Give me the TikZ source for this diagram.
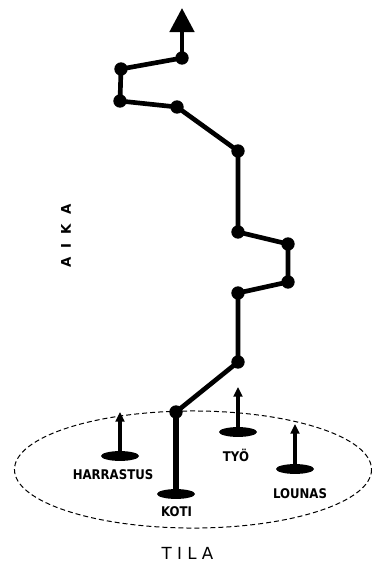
\documentclass[tikz,border=0pt]{standalone}
\usepackage{fontspec}
\setmainfont{DejaVu Sans}
\newfontfamily\narrowfont{DejaVu Sans}[FakeStretch=0.88]
\usepackage{tikz}
\usetikzlibrary{arrows.meta}
\usetikzlibrary{shapes}

\begin{document}
\begin{tikzpicture}[x=0.75pt,y=0.75pt,yscale=-1,xscale=1,
  dot/.style={circle,fill=black,inner sep=0pt,minimum size=10pt},
  timeline/.style={line width=3.5pt},
  spot/.style={ellipse,fill=black,inner sep=0pt,minimum width=28.5pt,minimum height=7.4pt},
  uparrow/.style={line width=2.5pt,-{Triangle[width=6.6pt,length=7.2pt]}},
  place/.style={font=\narrowfont\bfseries\fontsize{10}{12}\selectfont,inner sep=0pt,anchor=base}]
\useasboundingbox (0,0) rectangle (372,562);

%Shape: Ellipse [id:tila]
\draw [dash pattern=on 3.75pt off 2.25pt,line width=0.75pt] (193,469.5) ellipse [x radius=133.9pt, y radius=43.9pt];

%Shape: Places
\node [spot] (harrastus) at (120,456) {};
\node [spot] (koti) at (176,494) {};
\node [spot] (tyo) at (238,432) {};
\node [spot] (lounas) at (295,469) {};
\coordinate (harrastusTop) at (120,412);
\coordinate (tyoTop) at (238,387);
\coordinate (lounasTop) at (295,424);
%Straight Lines [id:arrows]
\draw [uparrow] (harrastus.center) -- (harrastusTop);
\draw [uparrow] (tyo.center) -- (tyoTop);
\draw [uparrow] (lounas.center) -- (lounasTop);

%Shape: Points of the path
\node [dot] (p1) at (176,412) {};
\node [dot] (p2) at (238,362) {};
\node [dot] (p3) at (238,293) {};
\node [dot] (p4) at (288,282) {};
\node [dot] (p5) at (288,244) {};
\node [dot] (p6) at (238,232) {};
\node [dot] (p7) at (238,151) {};
\node [dot] (p8) at (177,107) {};
\node [dot] (p9) at (120,101) {};
\node [dot] (p10) at (121,69) {};
\node [dot] (p11) at (182,58) {};
\coordinate (tip) at (182,8);

%Straight Lines [id:path]
\draw [line width=4.9pt] (koti.center) -- (p1.center);
\draw [timeline] (p1.center) -- (p2.center) -- (p3.center) -- (p4.center) -- (p5.center) -- (p6.center)
  -- (p7.center) -- (p8.center) -- (p9.center) -- (p10.center) -- (p11.center);
\draw [timeline,-{Triangle[width=18pt,length=18pt]}] (p11.center) -- (tip);

% Text Node
\node [place] (harrastusLabel) at (113,479) {HARRASTUS};
% Text Node
\node [place] (kotiLabel) at (176.5,516.7) {KOTI};
% Text Node
\node [place] (tyoLabel) at (236,461) {TYÖ};
% Text Node
\node [place] (lounasLabel) at (300,498.3) {LOUNAS};
% Text Node
\node [font=\fontsize{12.5}{14}\selectfont,inner sep=0pt] (tilaLabel) at (187.5,553) {T I L A};
% Text Node
\node [font=\bfseries\fontsize{10}{12}\selectfont,inner sep=0pt,rotate=90] (aikaLabel) at (66,236) {A~~I~~K~~A};

\end{tikzpicture}
\end{document}
